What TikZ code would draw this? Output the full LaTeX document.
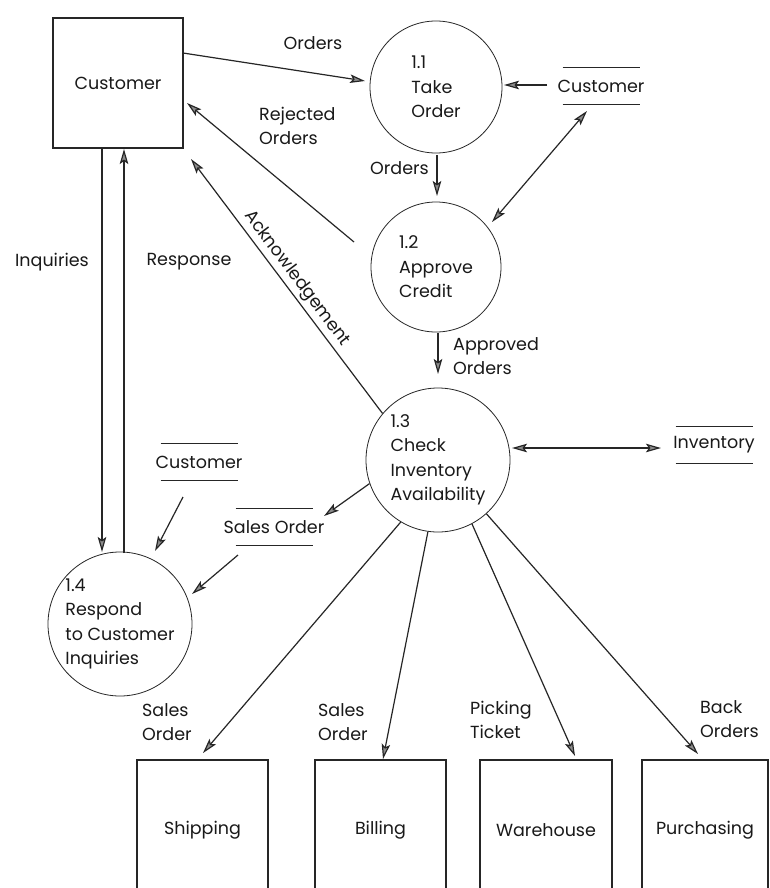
\documentclass[tikz,border=0pt]{standalone}
\usepackage{fontspec}
\setmainfont{Poppins}
\usetikzlibrary{arrows.meta}
\begin{document}
\begin{tikzpicture}[x=1pt,y=-1pt,
  every node/.style={font=\fontsize{17.5}{24.5}\selectfont, text=black!90},
  ent/.style={draw=black!85, line width=1.1pt, rectangle, inner sep=0},
  proc/.style={draw=black!85, line width=0.8pt, circle, inner sep=0, align=left},
  store/.style={inner xsep=0, inner ysep=0, minimum height=36},
  storeline/.style={draw=black!85, line width=0.9pt},
  flow/.style={draw=black!85, line width=1.2pt, -{Stealth[length=15pt,width=8.5pt,inset=3pt,fill=black!45]}},
  flow2/.style={draw=black!85, line width=1.2pt, {Stealth[length=15pt,width=8.5pt,inset=3pt,fill=black!45]}-{Stealth[length=15pt,width=8.5pt,inset=3pt,fill=black!45]}},
  lbl/.style={align=left, inner sep=0}
]
\useasboundingbox (0,0) rectangle (770,888);
\fill[white] (0,0) rectangle (770,888);

% external entities
\node[ent, minimum width=130, minimum height=130] (cust) at (118,83) {Customer};
\node[ent, minimum width=131, minimum height=140] (ship) at (202.5,830) {Shipping};
\node[ent, minimum width=131, minimum height=140] (bill) at (380.5,830) {Billing};
\node[ent, minimum width=132, minimum height=140] (ware) at (546,830) {Warehouse};
\node[ent, minimum width=126, minimum height=140] (purch) at (705,830) {Purchasing};

% processes
\node[proc, minimum size=132] (p11) at (436,87) {1.1\\Take\\Order};
\node[proc, minimum size=130] (p12) at (436,267) {1.2\\Approve\\Credit};
\node[proc, minimum size=144] (p13) at (438,460) {1.3\\Check\\Inventory\\Availability};
\node[proc, minimum size=144] (p14) at (120,624) {1.4\\Respond\\to Customer\\Inquiries};

% data stores
\node[store] (sc1) at (601,86) {Customer};
\node[store] (sinv) at (714,445) {Inventory};
\node[store] (sc2) at (199,462) {Customer};
\node[store] (ssal) at (274,527) {Sales Order};
\foreach \s in {sc1,sinv,sc2,ssal}{
  \draw[storeline] ([xshift=-38.5]\s.north) -- ([xshift=38.5]\s.north);
  \draw[storeline] ([xshift=-38.5]\s.south) -- ([xshift=38.5]\s.south);
}

% coordinates for free ends
\coordinate (o1s) at (183,53);
\coordinate (o1e) at (365,81);
\coordinate (rjs) at (354,242);
\coordinate (rje) at (187,103);
\coordinate (ake) at (191,159);
\coordinate (iqs) at (102,148);
\coordinate (iqe) at (102,552);
\coordinate (rps) at (124,553);
\coordinate (rpe) at (124,149);
\coordinate (o2s) at (437,155);
\coordinate (o2e) at (437,196);
\coordinate (aps) at (438,333);
\coordinate (ape) at (438,374);
\coordinate (sc1a) at (547,85);
\coordinate (sc1b) at (504,85);
\coordinate (sc1c) at (587,111);
\coordinate (p12t) at (492,222);
\coordinate (invl) at (661,448);
\coordinate (p13r) at (512,448);
\coordinate (ssin) at (324,516);
\coordinate (ssout) at (238,555);
\coordinate (p14a) at (192,594);
\coordinate (sc2o) at (183,497);
\coordinate (p14b) at (155,551);
\coordinate (shipt) at (203,753);
\coordinate (billt) at (383,759);
\coordinate (waret) at (575,756);
\coordinate (purt) at (698,754);

% flows
\draw[flow] (o1s) -- (o1e);
\node[lbl] (lord1) at (313,43) {Orders};
\draw[flow] (rjs) -- (rje);
\node[lbl, anchor=west] (lrej) at (259,126) {Rejected\\Orders};
\draw[flow] (p13.140) -- node[sloped, above, pos=0.5, inner sep=3pt] (lack) {Acknowledgement} (ake);
\draw[flow] (iqs) -- (iqe);
\node[lbl] (linq) at (52,262) {Inquiries};
\draw[flow] (rps) -- (rpe);
\node[lbl] (lresp) at (189,262) {Response};
\draw[flow] (o2s) -- (o2e);
\node[lbl, anchor=east] (lord2) at (429,168) {Orders};
\draw[flow] (aps) -- (ape);
\node[lbl, anchor=west] (lapp) at (453,356) {Approved\\Orders};
\draw[flow] (sc1a) -- (sc1b);
\draw[flow2] (sc1c) -- (p12t);
\draw[flow2] (p13r) -- (invl);
\draw[flow] (p13.-161) -- (ssin);
\draw[flow] (ssout) -- (p14a);
\draw[flow] (sc2o) -- (p14b);
\draw[flow] (p13.-121.5) -- (shipt);
\draw[flow] (p13.-98) -- (billt);
\draw[flow] (p13.-62.4) -- (waret);
\draw[flow] (p13.-48.3) -- (purt);
\node[lbl, anchor=west] (lso1) at (142,722) {Sales\\Order};
\node[lbl, anchor=west] (lso2) at (318,722) {Sales\\Order};
\node[lbl, anchor=west] (lpick) at (470,720) {Picking\\Ticket};
\node[lbl, anchor=west] (lback) at (700,719) {Back\\Orders};
\end{tikzpicture}
\end{document}
